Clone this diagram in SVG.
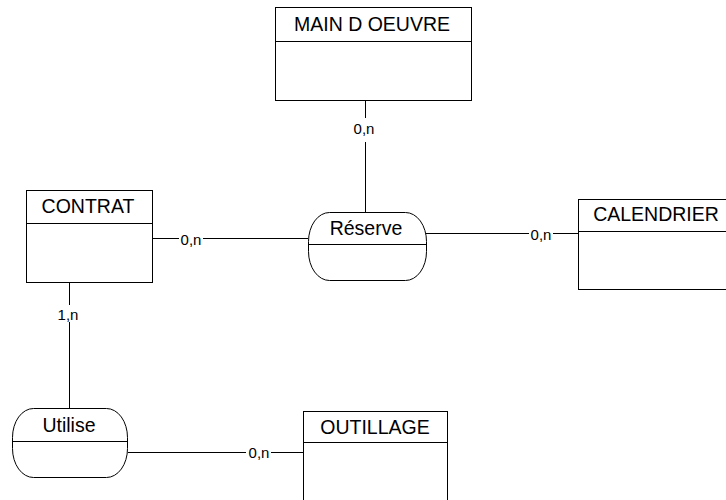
<svg xmlns="http://www.w3.org/2000/svg" width="726" height="500" viewBox="0 0 726 500">
<style>
.box{fill:#fff;stroke:#000;stroke-width:1}
.sep{stroke:#000;stroke-width:1}
.conn line{stroke:#000;stroke-width:1}
.title{font-family:"Liberation Sans",Arial,sans-serif;font-size:19.5px;fill:#000;text-anchor:middle}
.card{font-family:"Liberation Sans",Arial,sans-serif;font-size:15px;fill:#000;text-anchor:middle}
</style>
<rect width="726" height="500" fill="#fff"/>
<g id="connectors" class="conn">
<line x1="365.5" y1="100" x2="365.5" y2="118"/>
<line x1="365.5" y1="142" x2="365.5" y2="212"/>
<line x1="152" y1="238.5" x2="179" y2="238.5"/>
<line x1="203" y1="238.5" x2="308" y2="238.5"/>
<line x1="69.5" y1="282" x2="69.5" y2="305"/>
<line x1="69.5" y1="322" x2="69.5" y2="408"/>
<line x1="426" y1="233.5" x2="529" y2="233.5"/>
<line x1="553" y1="233.5" x2="578" y2="233.5"/>
<line x1="128" y1="452.5" x2="246" y2="452.5"/>
<line x1="271" y1="452.5" x2="303" y2="452.5"/>
<text class="card" x="364" y="134">0,n</text>
<text class="card" x="191" y="245">0,n</text>
<text class="card" x="68" y="320">1,n</text>
<text class="card" x="541" y="240">0,n</text>
<text class="card" x="259" y="458">0,n</text>
</g>
<g id="main-d-oeuvre">
<rect class="box" x="275.5" y="7.5" width="196" height="93"/>
<line class="sep" x1="275.5" y1="41.5" x2="471.5" y2="41.5"/>
<text class="title" x="372" y="31">MAIN D OEUVRE</text>
</g>
<g id="contrat">
<rect class="box" x="26.5" y="190.5" width="126" height="92"/>
<line class="sep" x1="26.5" y1="223.5" x2="152.5" y2="223.5"/>
<text class="title" x="88" y="213">CONTRAT</text>
</g>
<g id="reserve">
<rect class="box" x="308.5" y="212.5" width="118" height="68" rx="21" ry="29"/>
<line class="sep" x1="308.5" y1="244.5" x2="426.5" y2="244.5"/>
<text class="title" x="366" y="235">Réserve</text>
</g>
<g id="calendrier">
<rect class="box" x="578.5" y="199.5" width="170" height="90"/>
<line class="sep" x1="578.5" y1="231.5" x2="748.5" y2="231.5"/>
<text class="title" x="656" y="221">CALENDRIER</text>
</g>
<g id="utilise">
<rect class="box" x="12.5" y="408.5" width="115" height="69" rx="21" ry="29"/>
<line class="sep" x1="12.5" y1="441.5" x2="127.5" y2="441.5"/>
<text class="title" x="69" y="432">Utilise</text>
</g>
<g id="outillage">
<rect class="box" x="303.5" y="411.5" width="144" height="110"/>
<line class="sep" x1="303.5" y1="442.5" x2="447.5" y2="442.5"/>
<text class="title" x="375" y="434">OUTILLAGE</text>
</g>
</svg>
